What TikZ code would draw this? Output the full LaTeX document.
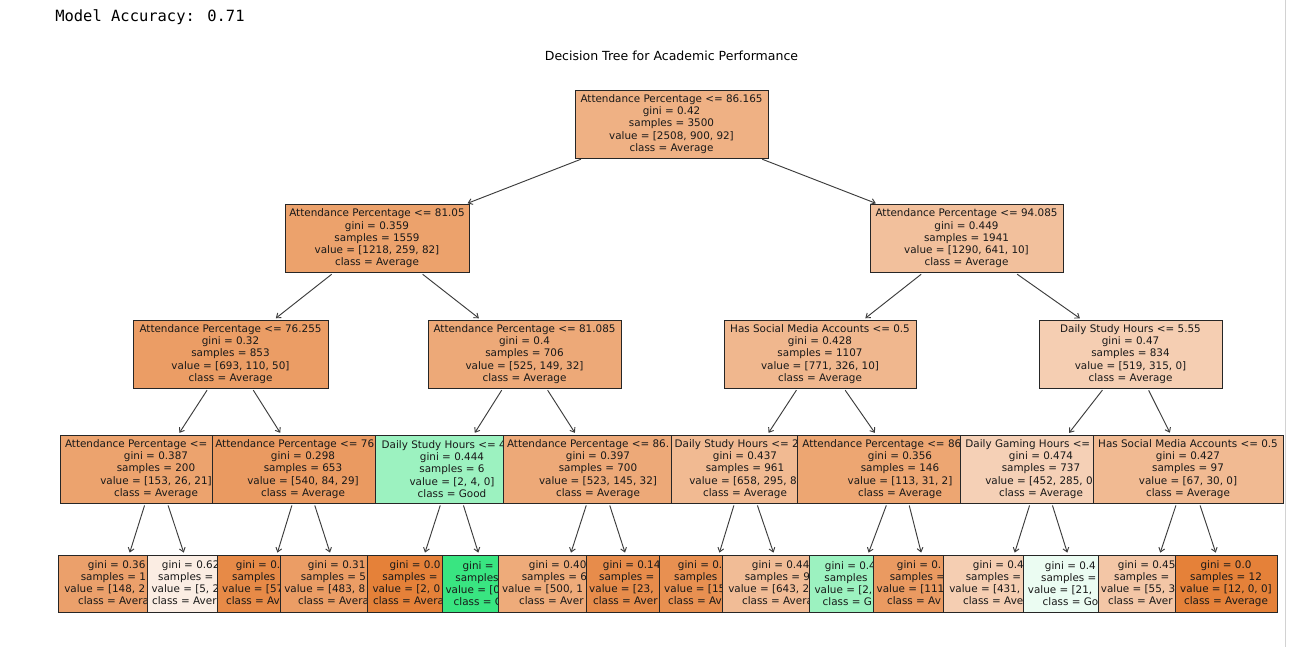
\documentclass[tikz,border=0pt]{standalone}
\usepackage{fontspec}
\setmainfont{DejaVu Sans}
\newfontfamily\accfont{DejaVu Sans Mono}
\usetikzlibrary{arrows.meta}
\definecolor{cavg}{RGB}{229,129,57}
\definecolor{cgood}{RGB}{57,229,129}
\definecolor{edgegray}{RGB}{60,60,60}
\tikzset{splitbox/.style={
            draw=black!85,
            line width=0.75pt,
            text=black!90,
            align=center,
            inner xsep=1pt,
            inner ysep=0pt,
            minimum height=51pt,
            font=\fontsize{7.8}{9.15}\selectfont
        },
        leafbox/.style={
            splitbox,
            minimum height=42.75pt
        },
        wd/.style={minimum width=#1*0.75pt},
        branch/.style={
            draw=edgegray,
            line width=0.7pt,
            arrows=->,
            >={Straight Barb[length=3pt,width=4.5pt]},
            shorten <=1.5pt,
            shorten >=1.5pt
        }
    }

\begin{document}
\begin{tikzpicture}[x=0.75pt,y=-0.75pt]
\useasboundingbox[fill=white] (0,0) rectangle (1302,647);
\draw[gray!35,line width=0.75pt] (1285,0) -- (1285,647);
\node[anchor=west,inner xsep=0pt,font=\accfont\fontsize{11.6}{14}\selectfont] (acc) at (55,17) {Model Accuracy: 0.71};
\node[font=\fontsize{9.4}{11}\selectfont] (title) at (671.5,56) {Decision Tree for Academic Performance};
% depth 0 and 1
\node[splitbox,wd=193,fill=cavg!62] (root) at (671.5,124) {Attendance Percentage <= 86.165\\gini = 0.42\\samples = 3500\\value = [2508, 900, 92]\\class = Average};
\node[splitbox,wd=184,fill=cavg!74] (n1l) at (377,238.5) {Attendance Percentage <= 81.05\\gini = 0.359\\samples = 1559\\value = [1218, 259, 82]\\class = Average};
\node[splitbox,wd=193,fill=cavg!50] (n1r) at (966.5,238.5) {Attendance Percentage <= 94.085\\gini = 0.449\\samples = 1941\\value = [1290, 641, 10]\\class = Average};
% depth 2
\node[splitbox,wd=195,fill=cavg!78] (n2a) at (230.5,354) {Attendance Percentage <= 76.255\\gini = 0.32\\samples = 853\\value = [693, 110, 50]\\class = Average};
\node[splitbox,wd=193,fill=cavg!68] (n2b) at (524.5,354) {Attendance Percentage <= 81.085\\gini = 0.4\\samples = 706\\value = [525, 149, 32]\\class = Average};
\node[splitbox,wd=192,fill=cavg!57] (n2c) at (820,354) {Has Social Media Accounts <= 0.5\\gini = 0.428\\samples = 1107\\value = [771, 326, 10]\\class = Average};
\node[splitbox,wd=183,fill=cavg!39] (n2d) at (1130.5,354) {Daily Study Hours <= 5.55\\gini = 0.47\\samples = 834\\value = [519, 315, 0]\\class = Average};
% depth 3, each box partly hidden by the next one
\node[splitbox,wd=192,fill=cavg!73] (n3a) at (156,469) {Attendance Percentage <= \phantom{71.165}\\gini = 0.387\\samples = 200\\value = [153, 26, 21]\\class = Average};
\node[splitbox,wd=182,fill=cavg!80] (n3b) at (303,469) {Attendance Percentage <= 76\phantom{.25}\\gini = 0.298\\samples = 653\\value = [540, 84, 29]\\class = Average};
\node[splitbox,wd=154,fill=cgood!50] (n3c) at (452,469) {Daily Study Hours <= 4\phantom{.55}\\gini = 0.444\\samples = 6\\value = [2, 4, 0]\\class = Good};
\node[splitbox,wd=190,fill=cavg!68] (n3d) at (598,469) {Attendance Percentage <= 86.\phantom{000}\\gini = 0.397\\samples = 700\\value = [523, 145, 32]\\class = Average};
\node[splitbox,wd=148,fill=cavg!55] (n3e) at (745,469) {Daily Study Hours <= 2\phantom{.55}\\gini = 0.437\\samples = 961\\value = [658, 295, 8\phantom{]}\\class = Average};
\node[splitbox,wd=206,fill=cavg!71] (n3f) at (900,469) {Attendance Percentage <= 86\phantom{.16500}\\gini = 0.356\\samples = 146\\value = [113, 31, 2]\\class = Average};
\node[splitbox,wd=162,fill=cavg!37] (n3g) at (1041,469) {Daily Gaming Hours <= \phantom{2.55}\\gini = 0.474\\samples = 737\\value = [452, 285, 0\phantom{]}\\class = Average};
\node[splitbox,wd=190,fill=cavg!55] (n3h) at (1188,469) {Has Social Media Accounts <= 0.5\\gini = 0.427\\samples = 97\\value = [67, 30, 0]\\class = Average};
% depth 4 (leaves)
\node[leafbox,wd=124,fill=cavg!75] (l0) at (120,583.5) {gini = 0.36\phantom{3}\\samples = 1\phantom{89}\\value = [148, 2\phantom{4, 17]}\\class = Avera\phantom{ge}};
\node[leafbox,wd=94,fill=cavg!14] (l1) at (194,583.5) {gini = 0.62\phantom{8}\\samples = \phantom{11}\\value = [5, 2\phantom{, 4]}\\class = Aver\phantom{age}};
\node[leafbox,wd=102,fill=cavg!93] (l2) at (268,583.5) {gini = 0.\phantom{095}\\samples\phantom{ = 60}\\value = [57\phantom{, 2, 1]}\\class = Av\phantom{erage}};
\node[leafbox,wd=120,fill=cavg!78] (l3) at (340,583.5) {gini = 0.31\phantom{5}\\samples = 5\phantom{93}\\value = [483, 8\phantom{2, 28]}\\class = Avera\phantom{ge}};
\node[leafbox,wd=96,fill=cavg] (l4) at (415,583.5) {gini = 0.0\\samples = \phantom{2}\\value = [2, 0\phantom{, 0]}\\class = Avera\phantom{ge}};
\node[leafbox,wd=92,fill=cgood] (l5) at (488,583.5) {gini = \phantom{0.0}\\samples\phantom{ = 4}\\value = [0\phantom{, 4, 0]}\\class = G\phantom{ood}};
\node[leafbox,wd=126,fill=cavg!67] (l6) at (561,583.5) {gini = 0.40\phantom{4}\\samples = 6\phantom{75}\\value = [500, 1\phantom{43, 32]}\\class = Aver\phantom{age}};
\node[leafbox,wd=98,fill=cavg!91] (l7) at (635,583.5) {gini = 0.14\phantom{7}\\samples = \phantom{25}\\value = [23, \phantom{2, 0]}\\class = Aver\phantom{age}};
\node[leafbox,wd=102,fill=cavg!88] (l8) at (710,583.5) {gini = 0.\phantom{117}\\samples\phantom{ = 16}\\value = [15\phantom{, 1, 0]}\\class = Av\phantom{erage}};
\node[leafbox,wd=124,fill=cavg!53] (l9) at (784,583.5) {gini = 0.44\phantom{3}\\samples = 9\phantom{45}\\value = [643, 2\phantom{94, 8]}\\class = Avera\phantom{ge}};
\node[leafbox,wd=96,fill=cgood!50] (l10) at (857,583.5) {gini = 0.4\phantom{44}\\samples\phantom{ = 6}\\value = [2, \phantom{4, 0]}\\class = G\phantom{ood}};
\node[leafbox,wd=112,fill=cavg!80] (l11) at (929,583.5) {gini = 0.\phantom{313}\\samples =\phantom{ 140}\\value = [111\phantom{, 27, 2]}\\class = Av\phantom{erage}};
\node[leafbox,wd=124,fill=cavg!39] (l12) at (1005,583.5) {gini = 0.4\phantom{72}\\samples = \phantom{692}\\value = [431, \phantom{261, 0]}\\class = Ave\phantom{rage}};
\node[leafbox,wd=108,fill=cgood!10] (l13) at (1077,583.5) {gini = 0.4\phantom{98}\\samples =\phantom{ 45}\\value = [21, \phantom{24, 0]}\\class = Go\phantom{od}};
\node[leafbox,wd=104,fill=cavg!45] (l14) at (1150,583.5) {gini = 0.45\phantom{7}\\samples = \phantom{85}\\value = [55, 3\phantom{0, 0]}\\class = Aver\phantom{age}};
\node[leafbox,wd=102,fill=cavg] (l15) at (1226,583.5) {gini = 0.0\\samples = 12\\value = [12, 0, 0]\\class = Average};
% connectors
\draw[branch] (root) -- (n1l);
\draw[branch] (root) -- (n1r);
\draw[branch] (n1l) -- (n2a);
\draw[branch] (n1l) -- (n2b);
\draw[branch] (n1r) -- (n2c);
\draw[branch] (n1r) -- (n2d);
\draw[branch] (n2a) -- (n3a);
\draw[branch] (n2a) -- (n3b);
\draw[branch] (n2b) -- (n3c);
\draw[branch] (n2b) -- (n3d);
\draw[branch] (n2c) -- (n3e);
\draw[branch] (n2c) -- (n3f);
\draw[branch] (n2d) -- (n3g);
\draw[branch] (n2d) -- (n3h);
\draw[branch] (n3a) -- (l0);
\draw[branch] (n3a) -- (l1);
\draw[branch] (n3b) -- (l2);
\draw[branch] (n3b) -- (l3);
\draw[branch] (n3c) -- (l4);
\draw[branch] (n3c) -- (l5);
\draw[branch] (n3d) -- (l6);
\draw[branch] (n3d) -- (l7);
\draw[branch] (n3e) -- (l8);
\draw[branch] (n3e) -- (l9);
\draw[branch] (n3f) -- (l10);
\draw[branch] (n3f) -- (l11);
\draw[branch] (n3g) -- (l12);
\draw[branch] (n3g) -- (l13);
\draw[branch] (n3h) -- (l14);
\draw[branch] (n3h) -- (l15);
\end{tikzpicture}
\end{document}
